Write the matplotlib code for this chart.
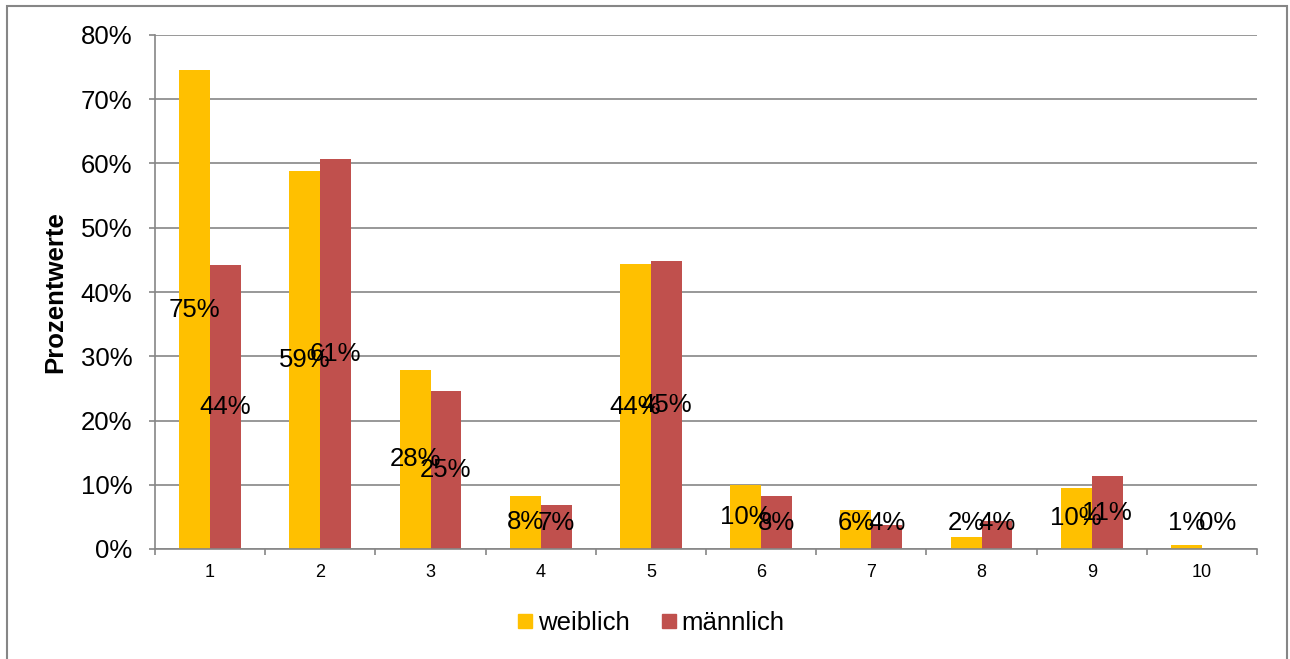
import numpy as np
import matplotlib.pyplot as plt
from matplotlib.patches import Rectangle
from matplotlib.lines import Line2D
from matplotlib.ticker import FixedLocator, PercentFormatter

plt.rcParams['font.family'] = ['Liberation Sans', 'DejaVu Sans']

kategorien = ["1", "2", "3", "4", "5", "6", "7", "8", "9", "10"]
weiblich = [74.55, 58.86, 27.92, 8.25, 44.31, 10.02, 6.02, 1.87, 9.52, 0.68]
maennlich = [44.26, 60.73, 24.65, 6.90, 44.88, 8.20, 3.74, 4.42, 11.36, 0.0]

farbe_w = "#FFC000"
farbe_m = "#C0504D"
grau = "#868686"

fig = plt.figure(figsize=(12.9, 6.59), dpi=100)
ax = fig.add_axes([155 / 1290, 1 - 549 / 659, 1102 / 1290, 514 / 659])

x = np.arange(1, len(kategorien) + 1)
breite = 0.28
ax.bar(x - breite / 2, weiblich, breite, color=farbe_w, zorder=3)
ax.bar(x + breite / 2, maennlich, breite, color=farbe_m, zorder=3)

# Datenbeschriftungen mittig im Balken (mindestens knapp über der Achse)
for xs, werte in [(x - breite / 2, weiblich), (x + breite / 2, maennlich)]:
    for xi, v in zip(xs, werte):
        ax.text(xi, max(v / 2, 4.05), f"{v:.0f}%", ha="center", va="center",
                fontsize=18.5, color="black", zorder=5)

ax.set_xlim(0.5, len(kategorien) + 0.5)
ax.set_ylim(0, 80)
ax.set_yticks(np.arange(0, 81, 10))
ax.yaxis.set_major_formatter(PercentFormatter(decimals=0))
ax.set_xticks(x)
ax.set_xticklabels(kategorien)
ax.xaxis.set_minor_locator(FixedLocator(np.arange(0.5, len(kategorien) + 1, 1)))

ax.tick_params(axis="y", labelsize=18.5, length=4.3, width=1.2, color=grau, pad=12)
ax.tick_params(axis="x", which="major", labelsize=13, length=0, pad=11)
ax.tick_params(axis="x", which="minor", length=4.3, width=1.2, color=grau)

ax.grid(axis="y", color=grau, linewidth=1.2, zorder=0)
for s in ["top", "right"]:
    ax.spines[s].set_visible(False)
for s in ["left", "bottom"]:
    ax.spines[s].set_color(grau)
    ax.spines[s].set_linewidth(1.2)
ax.spines["bottom"].set_zorder(4)

ax.set_ylabel("Prozentwerte", fontsize=18.5, fontweight="bold", va="center")
ax.yaxis.set_label_coords((55 - 155) / 1102, 0.5)

handles = [Line2D([], [], marker="s", linestyle="", markersize=10.5, color=farbe_w),
           Line2D([], [], marker="s", linestyle="", markersize=10.5, color=farbe_m)]
fig.legend(handles, ["weiblich", "männlich"], loc="center", ncol=2,
           bbox_to_anchor=(651 / 1290, 1 - 623 / 659), frameon=False,
           fontsize=18.5, handlelength=0.6, handletextpad=0.2, columnspacing=1.2)

# Rahmen um das Diagramm
fig.patches.append(Rectangle((6.5 / 1290, -0.02), 1280 / 1290, 1.02 - 5.5 / 659,
                             transform=fig.transFigure, fill=False,
                             edgecolor=grau, linewidth=1.5))

fig.savefig("out.png", dpi=100)
